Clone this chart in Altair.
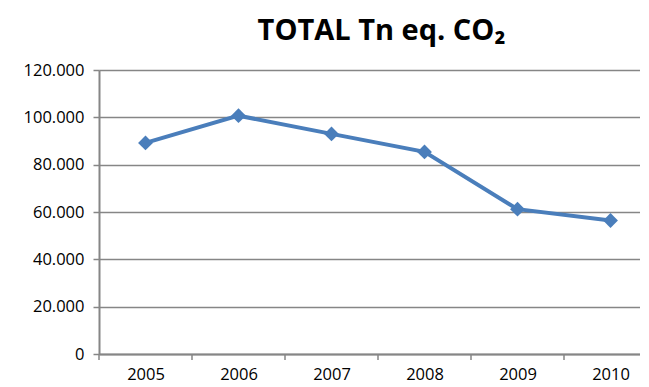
import altair as alt
import pandas as pd

years = [2005, 2006, 2007, 2008, 2009, 2010]
values = [89200, 100700, 93000, 85400, 61200, 56400]
tick_positions = [2004.5, 2005.5, 2006.5, 2007.5, 2008.5, 2009.5]
title_text = "TOTAL Tn eq. CO₂"

df = pd.DataFrame({"year": years, "value": values})
ticks_df = pd.DataFrame({"t": tick_positions})

W, H = 541, 284
blue = "#4A7EBB"
gray = "#868686"

xscale = alt.Scale(domain=[2004.5, 2004.5 + W / 93.0], nice=False, zero=False)
yscale = alt.Scale(domain=[0, 120000], nice=False)

x_enc = alt.X("year:Q", scale=xscale,
              axis=alt.Axis(values=years, format="d", ticks=False, grid=False,
                            domainColor=gray, domainWidth=2, labelFont="Open Sans",
                            labelFontSize=16.5, labelColor="#000", labelPadding=12,
                            title=None))
y_enc = alt.Y("value:Q", scale=yscale,
              axis=alt.Axis(values=[0, 20000, 40000, 60000, 80000, 100000, 120000],
                            labelExpr="replace(format(datum.value, ',d'), ',', '.')",
                            grid=True, gridColor=gray, gridWidth=1.3,
                            domainColor=gray, domainWidth=2, tickColor=gray,
                            tickSize=6, tickWidth=1.5, labelFont="Open Sans",
                            labelFontSize=16.5, labelColor="#000", labelPadding=9,
                            title=None))

line = alt.Chart(df).mark_line(color=blue, strokeWidth=4).encode(x=x_enc, y=y_enc)
pts = alt.Chart(df).mark_point(shape="diamond", filled=True, color=blue, size=220, opacity=1).encode(
    x=alt.X("year:Q", scale=xscale), y=alt.Y("value:Q", scale=yscale))

xticks = alt.Chart(ticks_df).mark_rule(color=gray, strokeWidth=1.5).encode(
    x=alt.X("t:Q", scale=xscale),
    y=alt.value(H), y2=alt.value(H + 6))

chart = alt.layer(xticks, line, pts).properties(
    width=W, height=H,
    title=alt.TitleParams(title_text, font="Open Sans", fontSize=29, fontWeight="bold",
                          color="#000", anchor="middle", offset=16, dx=12),
    autosize=alt.AutoSizeParams(type="none"),
    padding={"left": 91, "top": 62, "right": 0, "bottom": 31},
).configure_view(stroke=None).configure(background="white")

chart.save("out.html", embed_options={"renderer": "svg", "actions": False})
